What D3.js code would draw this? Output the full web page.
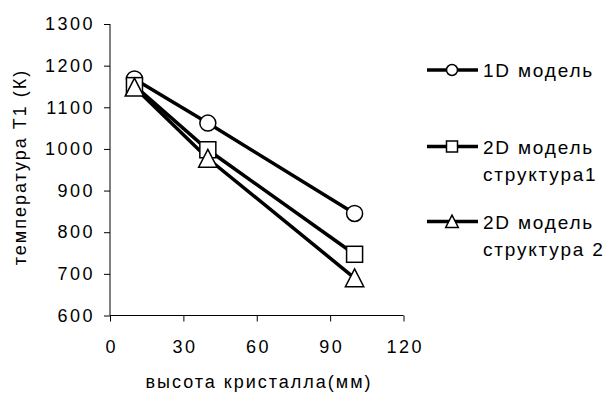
<!DOCTYPE html>
<html>
<head>
<meta charset="utf-8">
<script src="https://cdn.jsdelivr.net/npm/d3@7"></script>
<style>
  body { margin: 0; background: #fff; }
  text { font-family: Arial, "Liberation Sans", sans-serif; fill: #000; }
</style>
</head>
<body>
<script>
(function() {
  var w = 607, h = 397;

  // data
  var heights = [10, 40, 100]; // высота кристалла, мм
  var model1D = [1168, 1062, 845];
  var model2Ds1 = [1152, 998, 747];
  var model2Ds2 = [1148, 977, 690];
  var seriesNames = [["1D модель"], ["2D модель", "структура1"], ["2D модель", "структура 2"]];
  var markers = ["circle", "square", "triangle"];
  var xTicks = [0, 30, 60, 90, 120];
  var yTicks = [600, 700, 800, 900, 1000, 1100, 1200, 1300];

  var series = [model1D, model2Ds1, model2Ds2].map(function(vals, i) {
    return {
      name: seriesNames[i],
      marker: markers[i],
      points: vals.map(function(v, j) { return {x: heights[j], y: v}; })
    };
  });

  var svg = d3.select("body").append("svg")
    .attr("width", w)
    .attr("height", h);

  var x = d3.scaleLinear().domain([0, 120]).range([110, 403.5]);
  var y = d3.scaleLinear().domain([600, 1300]).range([315.5, 24]);

  // axes
  var xAxis = svg.append("g")
    .attr("transform", "translate(0," + y(600) + ")")
    .call(d3.axisBottom(x).tickValues(xTicks).tickFormat(d3.format("d")).tickSize(6).tickPadding(19));
  var yAxis = svg.append("g")
    .attr("transform", "translate(" + x(0) + ",0)")
    .call(d3.axisLeft(y).tickValues(yTicks).tickFormat(d3.format("d")).tickSize(6).tickPadding(9));

  [xAxis, yAxis].forEach(function(g) {
    g.select(".domain").attr("stroke", "#000").attr("stroke-width", 1);
    g.selectAll(".tick line").attr("stroke", "#000");
    g.selectAll(".tick text")
      .attr("font-size", "18px")
      .attr("font-family", "Arial, 'Liberation Sans', sans-serif")
      .style("letter-spacing", "2.5px");
  });
  xAxis.selectAll(".tick text").attr("dx", "1.25px");
  xAxis.select(".domain").attr("d", "M" + x(0) + ",0H" + x(120));
  yAxis.select(".domain").attr("d", "M0," + y(600) + "V" + y(1300));

  // axis titles
  svg.append("text")
    .attr("x", 259)
    .attr("y", 388)
    .attr("text-anchor", "middle")
    .attr("font-size", "18px")
    .style("letter-spacing", "2px")
    .text("высота кристалла(мм)");

  svg.append("text")
    .attr("transform", "translate(26,167) rotate(-90)")
    .attr("text-anchor", "middle")
    .attr("font-size", "18px")
    .style("letter-spacing", "2px")
    .text("температура Т1 (К)");

  function drawMarker(g, type, size) {
    if (type === "circle") {
      g.append("circle").attr("r", size);
    } else if (type === "square") {
      g.append("rect")
        .attr("x", -size).attr("y", -size)
        .attr("width", size * 2).attr("height", size * 2);
    } else {
      var s = size * 1.15;
      g.append("path").attr("d", "M0," + (-s) + "L" + s + "," + (s * 0.95) + "L" + (-s) + "," + (s * 0.95) + "Z");
    }
    g.selectAll("circle,rect,path")
      .attr("fill", "#fff")
      .attr("stroke", "#000")
      .attr("stroke-width", 1.5);
  }

  var line = d3.line()
    .x(function(d) { return x(d.x); })
    .y(function(d) { return y(d.y); });

  // lines
  svg.selectAll(".series-line")
    .data(series)
    .enter()
    .append("path")
    .attr("class", "series-line")
    .attr("d", function(d) { return line(d.points); })
    .attr("fill", "none")
    .attr("stroke", "#000")
    .attr("stroke-width", 3.5);

  // markers
  series.forEach(function(s) {
    s.points.forEach(function(p) {
      var g = svg.append("g").attr("transform", "translate(" + x(p.x) + "," + y(p.y) + ")");
      drawMarker(g, s.marker, 8);
    });
  });

  // legend
  var legendY = [70, 146.5, 221.5];
  series.forEach(function(s, i) {
    var lg = svg.append("g").attr("transform", "translate(0," + legendY[i] + ")");
    lg.append("line")
      .attr("x1", 427).attr("x2", 478)
      .attr("stroke", "#000").attr("stroke-width", 3.5);
    var m = lg.append("g").attr("transform", "translate(452,0)");
    drawMarker(m, s.marker, 5.5);
    s.name.forEach(function(t, k) {
      lg.append("text")
        .attr("x", 483)
        .attr("y", 7 + k * 27)
        .attr("font-size", "19px")
        .style("letter-spacing", "1.8px")
        .text(t);
    });
  });
})();
</script>
</body>
</html>
